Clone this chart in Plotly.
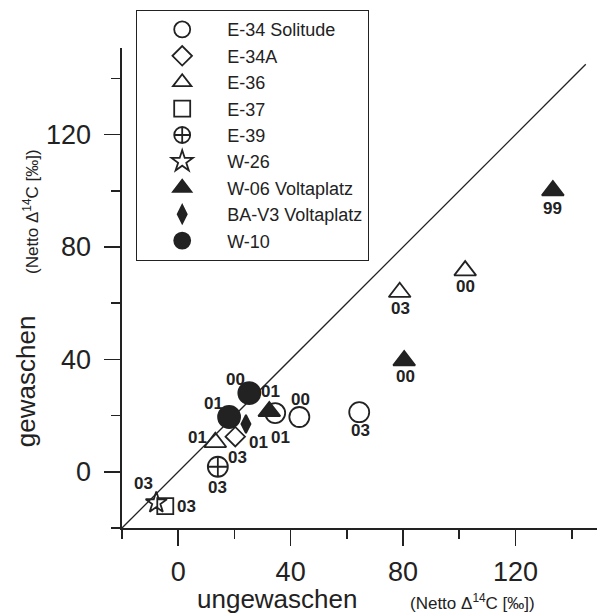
import plotly.graph_objects as go

# ---------------- data ----------------
series_names = ["E-34 Solitude", "E-34A", "E-36", "E-37", "E-39", "W-26",
                "W-06 Voltaplatz", "BA-V3 Voltaplatz", "W-10"]

e34_x = [34.5, 43.1, 64.4]
e34_y = [20.9, 19.5, 21.2]
e34_lab = ["01", "00", "03"]

e34a_x = [20.3]
e34a_y = [12.5]
e34a_lab = ["03"]

e36_x = [13.2, 78.8, 102.1]
e36_y = [10.5, 63.9, 71.6]
e36_lab = ["01", "03", "00"]

e37_x = [-4.6]
e37_y = [-12.2]
e37_lab = ["03"]

e39_x = [14.1]
e39_y = [1.8]
e39_lab = ["03"]

w26_x = [-7.8]
w26_y = [-11.0]
w26_lab = ["03"]

w06_x = [32.4, 80.4, 133.3]
w06_y = [21.5, 39.6, 100.1]
w06_lab = ["01", "00", "99"]

bav3_x = [24.1]
bav3_y = [17.0]
bav3_lab = ["01"]

w10_x = [25.3, 18.1]
w10_y = [28.0, 19.5]
w10_lab = ["00", "01"]

diag = [-20, 145]

major_ticks = [0, 40, 80, 120]
minor_ticks = [-20, 20, 60, 100, 140]

# ---------------- styles ----------------
INK = "#222222"
FONT = "Liberation Sans, Arial, sans-serif"

# (x, y, labels, symbol, size, label pixel offsets (dx right, dy down))
data_sets = [
    (e34_x, e34_y, e34_lab, "circle-open", 20, [(5, 24), (1, -17), (1, 18)]),
    (e34a_x, e34a_y, e34a_lab, "diamond-open", 15, [(2, 21)]),
    (e36_x, e36_y, e36_lab, "triangle-up-open", 19, [(-18, -5), (1, 16), (0, 16)]),
    (e37_x, e37_y, e37_lab, "square-open", 16, [(21, 0)]),
    (e39_x, e39_y, e39_lab, "circle-cross-open", 20, [(0, 21)]),
    (w26_x, w26_y, w26_lab, "star-open", 16, [(-13, -19)]),
    (w06_x, w06_y, w06_lab, "triangle-up", 19, [(1, -20), (1, 16), (0, 18)]),
    (bav3_x, bav3_y, bav3_lab, "diamond-tall", 13, [(13, 18)]),
    (w10_x, w10_y, w10_lab, "circle", 22, [(-14, -14), (-16, -13)]),
]

fig = go.Figure()

fig.add_trace(go.Scatter(x=diag, y=diag, mode="lines",
                         line=dict(color=INK, width=1.3),
                         showlegend=False, hoverinfo="skip"))

for name, (xs, ys, labs, sym, size, offs) in zip(series_names, data_sets):
    fig.add_trace(go.Scatter(
        x=xs, y=ys, name=name, legendgroup=name,
        mode="markers",
        marker=dict(symbol=sym, size=size, color=INK,
                    line=dict(color=INK, width=1.8)),
        cliponaxis=False,
    ))
    for xv, yv, lab, (dx, dy) in zip(xs, ys, labs, offs):
        fig.add_annotation(x=xv, y=yv, text=lab, showarrow=False,
                           xshift=dx, yshift=-dy,
                           xanchor="center", yanchor="middle",
                           font=dict(family=FONT, size=17, color=INK, weight="bold"))

axis_common = dict(
    showline=True, linecolor=INK, linewidth=1.6, mirror=False,
    showgrid=False, zeroline=False, automargin=False,
    ticks="outside", ticklen=16, tickwidth=1.6, tickcolor=INK,
    tickvals=major_ticks,
    tickfont=dict(family=FONT, size=27, color=INK),
    minor=dict(tickvals=minor_ticks, ticks="outside", ticklen=9,
               tickwidth=1.6, tickcolor=INK, showgrid=False),
)

fig.update_xaxes(range=[-20, 149], ticklabelstandoff=3, **axis_common)
fig.update_yaxes(range=[-20, 150.8], ticklabelstandoff=8, **axis_common)

# axis titles
fig.add_annotation(text="ungewaschen", xref="paper", yref="paper",
                   x=0.327, y=-0.148, xanchor="center", yanchor="middle",
                   showarrow=False, font=dict(family=FONT, size=26, color=INK))
fig.add_annotation(text="(Netto \u0394<sup>14</sup>C [\u2030])", xref="paper", yref="paper",
                   x=0.737, y=-0.154, xanchor="center", yanchor="middle",
                   showarrow=False, font=dict(family=FONT, size=17, color=INK))
fig.add_annotation(text="gewaschen", xref="paper", yref="paper",
                   x=-0.202, y=0.306, xanchor="center", yanchor="middle", textangle=-90,
                   showarrow=False, font=dict(family=FONT, size=26, color=INK))
fig.add_annotation(text="(Netto \u0394<sup>14</sup>C [\u2030])", xref="paper", yref="paper",
                   x=-0.192, y=0.66, xanchor="center", yanchor="middle", textangle=-90,
                   showarrow=False, font=dict(family=FONT, size=17, color=INK))

fig.update_layout(
    width=597, height=613,
    margin=dict(l=122, r=0, t=48, b=85, autoexpand=False),
    paper_bgcolor="white", plot_bgcolor="white",
    showlegend=True,
    legend=dict(xref="container", yref="container",
                x=136 / 597, y=1 - 10 / 613, xanchor="left", yanchor="top",
                bgcolor="white", bordercolor=INK, borderwidth=1.2,
                font=dict(family=FONT, size=18, color=INK),
                itemwidth=80, tracegroupgap=0, traceorder="grouped"),
)

fig.write_html("out.html",
               config={"displayModeBar": False, "staticPlot": True},
               post_script="document.body.style.margin='0';document.body.style.overflow='hidden';")
